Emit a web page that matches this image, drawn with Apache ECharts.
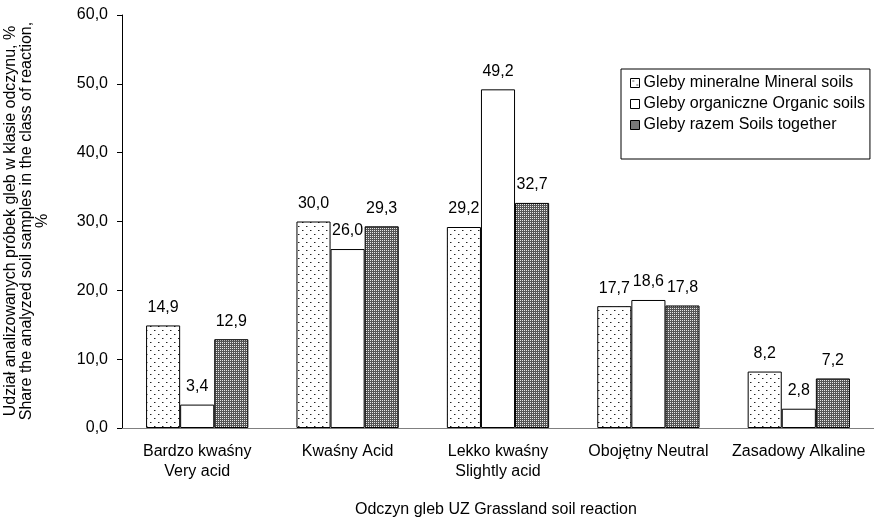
<!DOCTYPE html>
<html>
<head>
<meta charset="utf-8">
<script src="https://cdn.jsdelivr.net/npm/echarts@6/dist/echarts.min.js"></script>
<style>
html,body{margin:0;padding:0;background:#fff;}
#c{width:874px;height:517px;}
</style>
</head>
<body>
<div id="c"></div>
<script>
var categories = ['Bardzo kwaśny\nVery acid', 'Kwaśny Acid', 'Lekko kwaśny\nSlightly acid', 'Obojętny Neutral', 'Zasadowy Alkaline'];
var mineral = [14.9, 30.0, 29.2, 17.7, 8.2];
var organic = [3.4, 26.0, 49.2, 18.6, 2.8];
var together = [12.9, 29.3, 32.7, 17.8, 7.2];
var seriesNames = ['Gleby mineralne Mineral soils', 'Gleby organiczne Organic soils', 'Gleby razem Soils together'];
var yTicks = [0, 10, 20, 30, 40, 50, 60];

function dotPattern() {
  var c = document.createElement('canvas');
  c.width = 8; c.height = 8;
  var g = c.getContext('2d');
  g.fillStyle = '#fff'; g.fillRect(0, 0, 8, 8);
  g.fillStyle = '#222';
  g.fillRect(2, 2, 1, 1);
  g.fillRect(6, 6, 1, 1);
  g.fillStyle = '#999';
  g.fillRect(3, 2, 1, 1);
  g.fillRect(7, 6, 1, 1);
  return c;
}
function hatchPattern() {
  var c = document.createElement('canvas');
  c.width = 2; c.height = 2;
  var g = c.getContext('2d');
  g.fillStyle = '#555'; g.fillRect(0, 0, 2, 2);
  g.fillStyle = '#e8e8e8';
  g.fillRect(0, 0, 1, 1);
  return c;
}
var fills = [
  { image: dotPattern(), repeat: 'repeat' },
  '#ffffff',
  { image: hatchPattern(), repeat: 'repeat' }
];
var datas = [mineral, organic, together];
var fmt = function (v) { return v.toFixed(1).replace('.', ','); };

var chart = echarts.init(document.getElementById('c'), null, { renderer: 'canvas' });
var font = 'Liberation Sans, Arial, sans-serif';
var FS = 16;
var series = datas.map(function (d, i) {
  return {
    name: seriesNames[i],
    type: 'bar',
    data: d,
    barGap: '0%',
    barCategoryGap: '32%',
    itemStyle: { color: fills[i], borderColor: '#000', borderWidth: 1 },
    label: {
      show: true, position: 'top', distance: 10,
      color: '#000', fontSize: FS, fontFamily: font,
      formatter: function (p) { return fmt(p.value); }
    }
  };
});
chart.setOption({
  animation: false,
  backgroundColor: '#fff',
  textStyle: { fontFamily: font },
  grid: { left: 122, top: 15, width: 760, bottom: 89, containLabel: false },
  legend: {
    orient: 'vertical', left: 621, top: 69,
    padding: [6, 5, 26, 9],
    itemWidth: 9, itemHeight: 9, itemGap: 5,
    borderColor: '#000', borderWidth: 1,
    textStyle: { color: '#000', fontSize: FS, fontFamily: font, padding: [0, 0, 0, -1] },
    itemStyle: { borderColor: '#000', borderWidth: 1 },
    data: seriesNames.map(function (n) { return { name: n, icon: 'rect' }; })
  },
  xAxis: {
    type: 'category', data: categories,
    axisLine: { lineStyle: { color: '#808080', width: 1 } },
    axisTick: { show: false },
    axisLabel: { color: '#000', fontSize: FS, fontFamily: font, margin: 14, lineHeight: 20, interval: 0 }
  },
  yAxis: {
    type: 'value', min: yTicks[0], max: yTicks[yTicks.length - 1], interval: 10,
    axisLine: { show: true, lineStyle: { color: '#000', width: 1 } },
    axisTick: { show: true, length: 5, lineStyle: { color: '#000' } },
    splitLine: { show: false },
    axisLabel: { color: '#000', fontSize: FS, fontFamily: font, margin: 14, formatter: function (v) { return fmt(v); } }
  },
  graphic: [
    {
      type: 'text',
      x: 27, y: 221, rotation: Math.PI / 2,
      style: {
        text: 'Udział analizowanych próbek gleb w klasie odczynu, %\nShare the analyzed soil samples in the class of reaction,\n%',
        fill: '#000', font: FS + 'px ' + font, textAlign: 'center', textVerticalAlign: 'middle', lineHeight: 16
      }
    },
    {
      type: 'text', x: 355, y: 510,
      style: { text: 'Odczyn gleb UZ Grassland soil reaction', fill: '#000', font: FS + 'px ' + font, textAlign: 'left', textVerticalAlign: 'middle' }
    }
  ],
  series: series
});
</script>
</body>
</html>
